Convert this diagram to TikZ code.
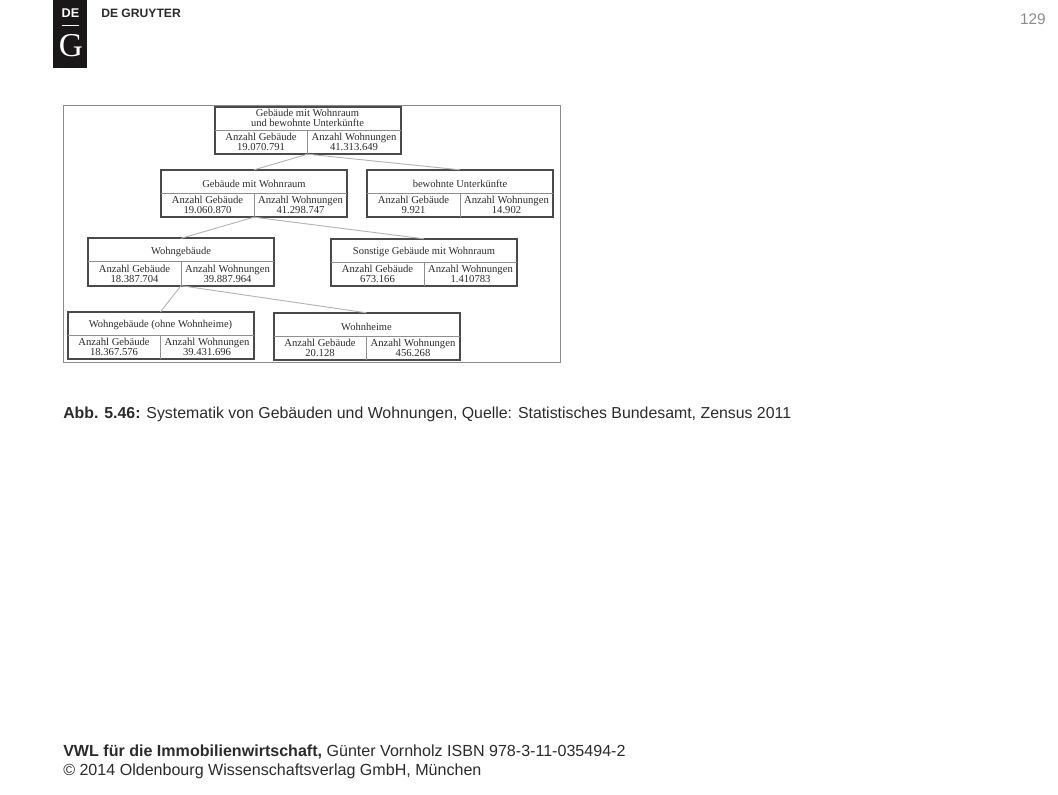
\documentclass[tikz,border=0pt]{standalone}
\usepackage{xcolor}
\usepackage{fontspec}
\setmainfont{Liberation Sans}
\newfontfamily\figfont{Liberation Serif}
\usetikzlibrary{positioning}
\definecolor{dgInk}{HTML}{2B2B2B}
\definecolor{dgGrey}{HTML}{8A8A8A}
\definecolor{dgBorder}{HTML}{4A4A4A}
\definecolor{dgRule}{HTML}{8F8F8F}
\definecolor{dgLink}{HTML}{B4B4B4}
\definecolor{dgLogo}{HTML}{1A1718}
\tikzset{
  statbox/.style={draw=dgBorder, line width=1.5pt, minimum width=139.5pt, minimum height=35.5pt, inner sep=0pt, outer sep=0pt},
  stathead/.style={anchor=north, minimum width=139.5pt, minimum height=20pt, inner sep=0pt, align=center, text=dgInk,
                   font=\figfont\fontsize{7.9}{7.5}\selectfont},
  statcell/.style={minimum width=69.75pt, minimum height=18pt, inner sep=0pt, outer sep=0pt, align=center, text=dgInk,
                   font=\figfont\fontsize{8}{7.5}\selectfont, execute at begin node={\rule{0pt}{9.5pt}}},
  statrule/.style={draw=dgRule, line width=0.6pt},
  statlink/.style={draw=dgLink, line width=0.7pt},
  pagetext/.style={anchor=base west, inner sep=0pt, text=dgInk, font=\fontsize{12.05}{14}\selectfont},
}
\begin{document}
\begin{tikzpicture}[x=0.75pt, y=-0.75pt]
\useasboundingbox (0,0) rectangle (1058,794);
\node[draw=dgGrey, line width=0.7pt, minimum width=372.75pt, minimum height=192.75pt, inner sep=0pt] (frame) at (311.5,233.5) {};

% logo
\node[fill=dgLogo, minimum width=25.5pt, minimum height=51pt, inner sep=0pt] (logo) at (70,34) {};
\node[text=white, inner sep=0pt, font=\bfseries\fontsize{9.5}{10}\selectfont] (logoDe) at (70.5,13) {DE};
\node[text=white, inner sep=0pt, font=\figfont\fontsize{25}{28}\selectfont] (logoG) at (71,46) {G};
\draw[white, line width=1pt] (logo.center |- 0,25.5) ++(-8.5,0) -- ++(17,0);
\node[anchor=west, inner sep=0pt, text=dgInk, font=\bfseries\fontsize{9.1}{10}\selectfont] (brand) at (101,13) {DE GRUYTER};
\node[anchor=base east, inner sep=0pt, text=dgGrey, font=\fontsize{11.5}{14}\selectfont] (page) at (1046,24) {129};

% boxes
\node[statbox] (gw) at (307.5,130.5) {};
\node[statbox] (wr) at (254,193.5) {};
\node[statbox] (bu) at (460,193.5) {};
\node[statbox] (wg) at (181,262) {};
\node[statbox] (so) at (424,262.5) {};
\node[statbox] (oh) at (160.5,335.5) {};
\node[statbox] (wh) at (366.5,336.5) {};

\draw[statlink] (gw.south) -- (wr.north);
\draw[statlink] (gw.south) -- (bu.north);
\draw[statlink] (wr.south) -- (wg.north);
\draw[statlink] (wr.south) -- (so.north);
\draw[statlink] (wg.south) -- (oh.north);
\draw[statlink] (wg.south) -- (wh.north);

\node[stathead, minimum height=16.5pt] (gwT) at (gw.north) {Gebäude mit Wohnraum\\und bewohnte Unterkünfte};
\node[statcell, anchor=south west] (gwL) at (gw.south west) {Anzahl Gebäude\\19.070.791};
\node[statcell, anchor=south east] (gwR) at (gw.south east) {Anzahl Wohnungen\\41.313.649};
\draw[statrule] (gwL.north west) -- (gwR.north east) (gwL.north east) -- (gwL.south east);

\node[stathead] (wrT) at (wr.north) {Gebäude mit Wohnraum};
\node[statcell, anchor=south west] (wrL) at (wr.south west) {Anzahl Gebäude\\19.060.870};
\node[statcell, anchor=south east] (wrR) at (wr.south east) {Anzahl Wohnungen\\41.298.747};
\draw[statrule] (wrL.north west) -- (wrR.north east) (wrL.north east) -- (wrL.south east);

\node[stathead] (buT) at (bu.north) {bewohnte Unterkünfte};
\node[statcell, anchor=south west] (buL) at (bu.south west) {Anzahl Gebäude\\9.921};
\node[statcell, anchor=south east] (buR) at (bu.south east) {Anzahl Wohnungen\\14.902};
\draw[statrule] (buL.north west) -- (buR.north east) (buL.north east) -- (buL.south east);

\node[stathead] (wgT) at (wg.north) {Wohngebäude};
\node[statcell, anchor=south west] (wgL) at (wg.south west) {Anzahl Gebäude\\18.387.704};
\node[statcell, anchor=south east] (wgR) at (wg.south east) {Anzahl Wohnungen\\39.887.964};
\draw[statrule] (wgL.north west) -- (wgR.north east) (wgL.north east) -- (wgL.south east);

\node[stathead] (soT) at (so.north) {Sonstige Gebäude mit Wohnraum};
\node[statcell, anchor=south west] (soL) at (so.south west) {Anzahl Gebäude\\673.166};
\node[statcell, anchor=south east] (soR) at (so.south east) {Anzahl Wohnungen\\1.410783};
\draw[statrule] (soL.north west) -- (soR.north east) (soL.north east) -- (soL.south east);

\node[stathead] (ohT) at (oh.north) {Wohngebäude (ohne Wohnheime)};
\node[statcell, anchor=south west] (ohL) at (oh.south west) {Anzahl Gebäude\\18.367.576};
\node[statcell, anchor=south east] (ohR) at (oh.south east) {Anzahl Wohnungen\\39.431.696};
\draw[statrule] (ohL.north west) -- (ohR.north east) (ohL.north east) -- (ohL.south east);

\node[stathead] (whT) at (wh.north) {Wohnheime};
\node[statcell, anchor=south west] (whL) at (wh.south west) {Anzahl Gebäude\\20.128};
\node[statcell, anchor=south east] (whR) at (wh.south east) {Anzahl Wohnungen\\456.268};
\draw[statrule] (whL.north west) -- (whR.north east) (whL.north east) -- (whL.south east);

% caption and footer
\node[pagetext, font=\fontsize{11.9}{14}\selectfont] (caption) at (63,418) {\textbf{Abb. 5.46:} Systematik von Gebäuden und Wohnungen, Quelle: Statistisches Bundesamt, Zensus 2011};
\node[pagetext] (foot) at (63,756) {\textbf{VWL für die Immobilienwirtschaft,} Günter Vornholz ISBN 978-3-11-035494-2};
\node[pagetext] (copy) at (63,775) {© 2014 Oldenbourg Wissenschaftsverlag GmbH, München};
\end{tikzpicture}
\end{document}
